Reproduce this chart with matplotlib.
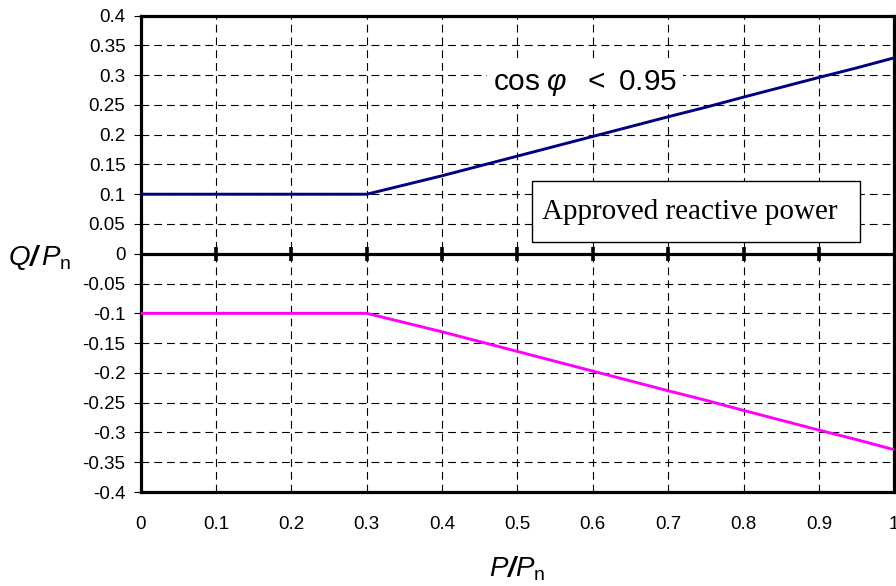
import matplotlib
matplotlib.use("Agg")
import matplotlib.pyplot as plt
from matplotlib.patches import Rectangle

# values
p = [0.0, 0.3, 0.4, 0.5, 0.6, 0.7, 0.75, 0.8, 0.9, 0.95, 1.0]
q_upper = [0.1, 0.1, 0.131, 0.164, 0.197, 0.230, 0.246, 0.263, 0.296, 0.312, 0.329]
q_lower = [-0.1, -0.1, -0.131, -0.164, -0.197, -0.230, -0.246, -0.263, -0.296, -0.312, -0.329]

x_ticks = [0, 0.1, 0.2, 0.3, 0.4, 0.5, 0.6, 0.7, 0.8, 0.9, 1]
x_labels = ["0", "0.1", "0.2", "0.3", "0.4", "0.5", "0.6", "0.7", "0.8", "0.9", "1"]
y_ticks = [0.4, 0.35, 0.3, 0.25, 0.2, 0.15, 0.1, 0.05, 0, -0.05, -0.1, -0.15,
           -0.2, -0.25, -0.3, -0.35, -0.4]
y_labels = ["0.4", "0.35", "0.3", "0.25", "0.2", "0.15", "0.1", "0.05", "0", "-0.05",
            "-0.1", "-0.15", "-0.2", "-0.25", "-0.3", "-0.35", "-0.4"]

plt.rcParams['font.family'] = ['Liberation Sans', 'DejaVu Sans']
plt.rcParams['mathtext.fontset'] = 'custom'
plt.rcParams['mathtext.rm'] = 'Liberation Sans'
plt.rcParams['mathtext.it'] = 'Liberation Sans:italic'
plt.rcParams['mathtext.bf'] = 'Liberation Sans:bold:italic'

fig = plt.figure(figsize=(8.96, 5.86), dpi=100)
ax = fig.add_axes([0.157, 0.1604, 0.841, 0.8131])

ax.set_xlim(0, 1)
ax.set_ylim(-0.4, 0.4)

# dashed grid
dash = (0, (7, 4.5))
for x in x_ticks[1:-1]:
    ax.axvline(x, color='black', lw=0.8, ls=dash, zorder=1)
for y in y_ticks[1:-1]:
    if y != 0:
        ax.axhline(y, color='black', lw=0.8, ls=dash, zorder=1)

# zero axis with crossing ticks
ax.axhline(0, color='black', lw=2.3, zorder=2)
ax.vlines(x_ticks[1:-1], -0.012, 0.012, color='black', lw=2.6, zorder=2)

ax.plot(p, q_upper, color='#000080', lw=2.1, zorder=3, solid_capstyle='butt')
ax.plot(p, q_lower, color='#FF00FF', lw=2.1, zorder=3, solid_capstyle='butt')

for s in ax.spines.values():
    s.set_linewidth(2.3)

ax.set_xticks(x_ticks)
ax.set_xticklabels(x_labels)
ax.set_yticks(y_ticks)
ax.set_yticklabels(y_labels)
ax.tick_params(axis='x', length=0, pad=17, labelsize=13.5)
ax.tick_params(axis='y', length=5, width=0.8, pad=6, labelsize=13.5)

ax.text(0.468, 0.287, r'$\mathrm{cos}\;\mathit{\varphi}\ \ \mathrm{<}\ 0.95$', fontsize=21.5,
        va='center', ha='left', zorder=2.5,
        bbox=dict(boxstyle='square,pad=0.2', facecolor='white', edgecolor='none'))

# label box
ax.add_patch(Rectangle((0.519, 0.020), 0.436, 0.1016, facecolor='white',
                       edgecolor='black', lw=1.0, zorder=4))
ax.text(0.5325, 0.0708, 'Approved reactive power', family='Liberation Serif', fontsize=21,
        ha='left', va='center', zorder=5)

fig.text(0.009, 1 - 258 / 586, r'$Q\mathbf{/}\,P_{\mathrm{n}}$', fontsize=20,
         ha='left', va='center')
fig.text(517 / 896, 1 - 569 / 586, r'$P\mathbf{/}P_{\mathrm{n}}$', fontsize=20,
         ha='center', va='center')

fig.savefig('out.png', dpi=100)
